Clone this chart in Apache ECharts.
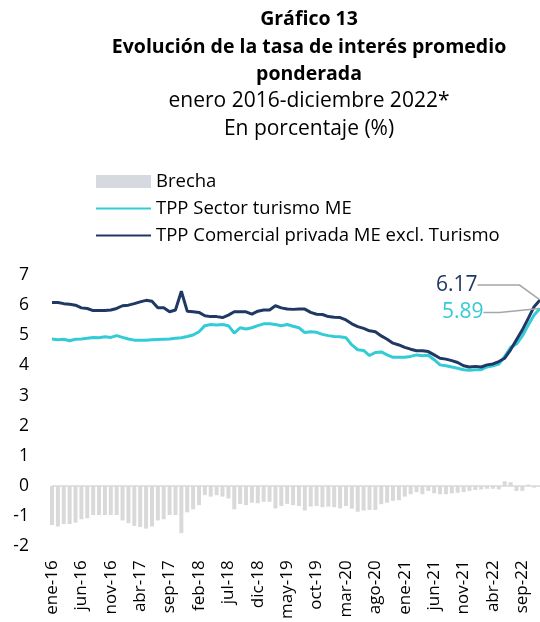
<!DOCTYPE html>
<html>
<head>
<meta charset="utf-8">
<script src="https://cdn.jsdelivr.net/npm/echarts@6/dist/echarts.min.js"></script>
<style>
  html, body { margin: 0; padding: 0; background: #fff; }
  #chart { width: 540px; height: 622px; }
</style>
</head>
<body>
<div id="chart"></div>
<script>
// categorias: ene-16 ... dic-22
const meses = ['ene', 'feb', 'mar', 'abr', 'may', 'jun', 'jul', 'ago', 'sep', 'oct', 'nov', 'dic']
const anios = ['16', '17', '18', '19', '20', '21', '22']
const categorias = []
anios.forEach(a => meses.forEach(m => categorias.push(m + '-' + a)))

// Brecha (barras)
const brecha = [
  -1.29, -1.34, -1.26, -1.26, -1.21, -1.10, -1.07, -0.96, -0.96, -0.96,
  -0.96, -0.96, -1.14, -1.23, -1.32, -1.36, -1.41, -1.34, -1.14, -1.10,
  -0.96, -0.96, -1.56, -0.87, -0.77, -0.63, -0.30, -0.35, -0.30, -0.35,
  -0.41, -0.77, -0.59, -0.63, -0.55, -0.57, -0.52, -0.52, -0.74, -0.66,
  -0.59, -0.63, -0.66, -0.81, -0.68, -0.66, -0.70, -0.68, -0.70, -0.74,
  -0.66, -0.75, -0.85, -0.81, -0.79, -0.79, -0.60, -0.55, -0.49, -0.47,
  -0.35, -0.27, -0.20, -0.27, -0.16, -0.24, -0.27, -0.27, -0.24, -0.22,
  -0.20, -0.16, -0.13, -0.11, -0.09, -0.09, -0.11, 0.16, 0.13, -0.16,
  -0.16, 0.05, -0.05, -0.03
]

// TPP Sector turismo ME
const tppTurismo = [
  4.88, 4.85, 4.87, 4.82, 4.87, 4.88, 4.90, 4.93, 4.92, 4.95,
  4.93, 4.99, 4.93, 4.88, 4.84, 4.84, 4.84, 4.85, 4.86, 4.87,
  4.88, 4.90, 4.92, 4.96, 5.01, 5.12, 5.32, 5.36, 5.34, 5.36,
  5.32, 5.07, 5.25, 5.21, 5.25, 5.32, 5.38, 5.38, 5.36, 5.32,
  5.36, 5.30, 5.25, 5.09, 5.12, 5.10, 5.03, 4.99, 4.96, 4.95,
  4.92, 4.68, 4.52, 4.50, 4.33, 4.43, 4.45, 4.35, 4.27, 4.27,
  4.27, 4.30, 4.35, 4.32, 4.34, 4.19, 4.02, 3.99, 3.95, 3.91,
  3.86, 3.84, 3.86, 3.86, 3.95, 3.99, 4.05, 4.30, 4.60, 4.71,
  4.98, 5.34, 5.67, 5.89
]

// TPP Comercial privada ME excl. Turismo
const tppComercial = [
  6.09, 6.09, 6.05, 6.03, 6.00, 5.91, 5.89, 5.82, 5.82, 5.82,
  5.84, 5.89, 5.98, 6.00, 6.05, 6.11, 6.16, 6.13, 5.91, 5.91,
  5.78, 5.84, 6.46, 5.80, 5.78, 5.76, 5.65, 5.62, 5.62, 5.59,
  5.67, 5.78, 5.78, 5.78, 5.70, 5.80, 5.84, 5.84, 5.98, 5.91,
  5.87, 5.86, 5.87, 5.87, 5.76, 5.70, 5.69, 5.62, 5.60, 5.59,
  5.51, 5.38, 5.29, 5.23, 5.15, 5.12, 4.98, 4.87, 4.74, 4.68,
  4.60, 4.54, 4.49, 4.49, 4.46, 4.35, 4.24, 4.21, 4.16, 4.10,
  3.99, 3.95, 3.97, 3.95, 4.02, 4.05, 4.13, 4.24, 4.52, 4.85,
  5.18, 5.56, 5.95, 6.17
]

const colorBrecha = '#d9d9d9'
const colorTurismo = '#33cbd6'
const colorComercial = '#1f3864'
const fuente = 'Open Sans'
const ultimo = categorias.length - 1

// solo el último punto lleva símbolo (invisible) y etiqueta
const conEtiqueta = (valores, color) => valores.map((v, i) => i === ultimo
  ? { value: v, symbol: 'circle', symbolSize: 1, label: { show: true, color: color } }
  : v)

const chart = echarts.init(document.getElementById('chart'))

const option = {
  animation: false,
  textStyle: { fontFamily: fuente },
  title: {
    text: 'Gráfico 13\nEvolución de la tasa de interés promedio\nponderada',
    subtext: 'enero 2016-diciembre 2022*\nEn porcentaje (%)',
    left: 304,
    top: 1,
    textAlign: 'center',
    itemGap: -1,
    textStyle: { fontFamily: fuente, fontSize: 19.5, fontWeight: 'bold', color: '#000', lineHeight: 27.5 },
    subtextStyle: { fontFamily: fuente, fontSize: 21, color: '#000', lineHeight: 28 }
  },
  legend: {
    orient: 'vertical',
    left: 90,
    top: 167,
    itemWidth: 55,
    itemHeight: 13,
    itemGap: 8,
    textStyle: { fontFamily: fuente, fontSize: 18.5, color: '#000' },
    data: [
      { name: 'Brecha', icon: 'rect', itemStyle: { color: '#d6dae0' } },
      { name: 'TPP Sector turismo ME', itemStyle: { opacity: 0 } },
      { name: 'TPP Comercial privada ME excl. Turismo', itemStyle: { opacity: 0 } }
    ]
  },
  grid: { left: 52, right: 0, top: 275, bottom: 74 },
  xAxis: {
    type: 'category',
    data: categorias,
    boundaryGap: false,
    axisLine: { show: false, onZero: false },
    axisTick: { show: false },
    axisLabel: {
      interval: 4,
      rotate: 90,
      margin: 14,
      fontFamily: fuente,
      fontSize: 17,
      color: '#000'
    }
  },
  yAxis: {
    type: 'value',
    min: -2,
    max: 7,
    interval: 1,
    splitLine: { show: false },
    axisLine: { show: false },
    axisTick: { show: false },
    axisLabel: { margin: 23, fontFamily: fuente, fontSize: 17.5, color: '#000' }
  },
  series: [
    {
      name: 'Brecha',
      type: 'bar',
      data: brecha,
      barWidth: 4,
      itemStyle: { color: colorBrecha },
      markLine: {
        silent: true,
        symbol: 'none',
        label: { show: false },
        lineStyle: { color: colorBrecha, width: 1.5, type: 'solid' },
        data: [{ yAxis: 0 }]
      }
    },
    {
      name: 'TPP Sector turismo ME',
      type: 'line',
      data: conEtiqueta(tppTurismo, colorTurismo),
      symbol: 'none',
      showAllSymbol: true,
      lineStyle: { color: colorTurismo, width: 3 },
      itemStyle: { color: colorTurismo },
      label: { fontFamily: fuente, fontSize: 21, position: 'left', distance: 0 },
      labelLine: { show: true, length2: 16, lineStyle: { color: '#a6a6a6', width: 1.5 } },
      labelLayout: p => p.dataIndex === ultimo ? { dx: -56, dy: 4 } : {}
    },
    {
      name: 'TPP Comercial privada ME excl. Turismo',
      type: 'line',
      data: conEtiqueta(tppComercial, colorComercial),
      symbol: 'none',
      showAllSymbol: true,
      lineStyle: { color: colorComercial, width: 3 },
      itemStyle: { color: colorComercial },
      label: { fontFamily: fuente, fontSize: 21, position: 'left', distance: 0 },
      labelLine: { show: true, length2: 42, lineStyle: { color: '#a6a6a6', width: 1.5 } },
      labelLayout: p => p.dataIndex === ultimo ? { dx: -62, dy: -15 } : {}
    }
  ]
}

chart.setOption(option)
window.addEventListener('resize', () => chart.resize())
</script>
</body>
</html>
